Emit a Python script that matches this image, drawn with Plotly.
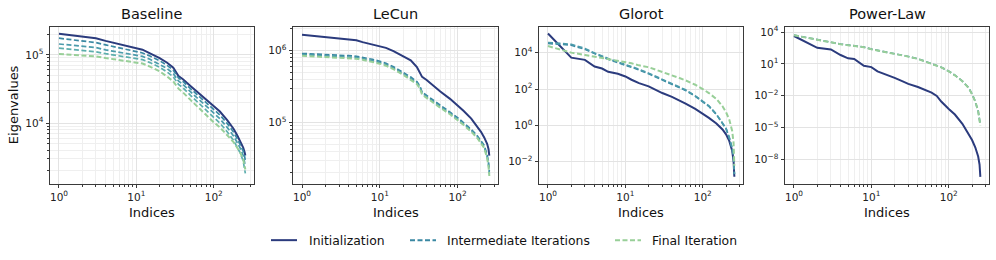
import plotly.graph_objects as go

# ---------------- data ----------------
titles = ["Baseline", "LeCun", "Glorot", "Power-Law"]
legend_names = ["Initialization", "Intermediate Iterations", "Final Iteration"]

base_idx = [1, 2, 3, 4, 5, 6, 8, 10, 12, 15, 20, 25, 30, 35, 40, 50, 60, 80, 100, 120, 150, 180, 200, 220, 240, 250, 256]
base_init = [2.04e5, 1.88e5, 1.75e5, 1.60e5, 1.51e5, 1.43e5, 1.31e5, 1.24e5, 1.19e5, 1.05e5, 8.95e4, 7.66e4, 6.5e4, 4.9e4, 4.4e4, 3.5e4, 2.94e4, 2.25e4, 1.8e4, 1.48e4, 1.1e4, 8.3e3, 6.7e3, 5.5e3, 4.4e3, 3.8e3, 3.36e3]
base_mid1 = [1.75e5, 1.61e5, 1.51e5, 1.40e5, 1.32e5, 1.27e5, 1.17e5, 1.11e5, 1.065e5, 9.6e4, 8.2e4, 7.0e4, 5.95e4, 4.6e4, 4.07e4, 3.2e4, 2.66e4, 2.01e4, 1.61e4, 1.32e4, 9.85e3, 7.4e3, 6.0e3, 4.9e3, 3.94e3, 3.3e3, 2.85e3]
base_mid2 = [1.44e5, 1.35e5, 1.28e5, 1.18e5, 1.13e5, 1.08e5, 1.03e5, 9.9e4, 9.5e4, 8.6e4, 7.3e4, 6.3e4, 5.3e4, 4.15e4, 3.68e4, 2.87e4, 2.38e4, 1.78e4, 1.41e4, 1.16e4, 8.6e3, 6.5e3, 5.25e3, 4.3e3, 3.4e3, 2.85e3, 2.35e3]
base_mid3 = [1.25e5, 1.166e5, 1.11e5, 1.04e5, 1.0e5, 9.6e4, 9.1e4, 8.9e4, 8.5e4, 7.7e4, 6.55e4, 5.6e4, 4.76e4, 3.7e4, 3.3e4, 2.56e4, 2.1e4, 1.56e4, 1.22e4, 1.0e4, 7.45e3, 5.6e3, 4.5e3, 3.65e3, 2.8e3, 2.3e3, 1.84e3]
base_final = [1.03e5, 9.85e4, 9.5e4, 8.98e4, 8.65e4, 8.38e4, 7.94e4, 7.77e4, 7.46e4, 6.73e4, 5.74e4, 4.8e4, 4.08e4, 3.2e4, 2.82e4, 2.19e4, 1.78e4, 1.32e4, 1.03e4, 8.7e3, 6.75e3, 5.3e3, 4.4e3, 3.7e3, 2.95e3, 2.5e3, 2.1e3]

lecun_idx = [1, 2, 3, 4, 5, 6, 8, 10, 12, 15, 20, 25, 30, 33, 35, 40, 50, 60, 80, 100, 120, 150, 180, 200, 220, 240, 250, 256]
lecun_init = [1.66e6, 1.54e6, 1.47e6, 1.43e6, 1.39e6, 1.31e6, 1.22e6, 1.15e6, 1.09e6, 9.8e5, 8.3e5, 7.3e5, 5.9e5, 4.7e5, 4.3e5, 3.9e5, 3.15e5, 2.7e5, 2.13e5, 1.73e5, 1.44e5, 1.13e5, 8.7e4, 7.4e4, 6.2e4, 5.05e4, 4.27e4, 3.46e4]
lecun_mid1 = [9.1e5, 8.85e5, 8.65e5, 8.48e5, 8.3e5, 8.05e5, 7.56e5, 7.1e5, 6.65e5, 5.94e5, 4.97e5, 4.28e5, 3.69e5, 3.15e5, 2.64e5, 2.38e5, 1.97e5, 1.73e5, 1.4e5, 1.17e5, 9.9e4, 8.0e4, 6.5e4, 5.6e4, 4.8e4, 3.55e4, 2.8e4, 2.1e4]
lecun_mid2 = [8.8e5, 8.5e5, 8.33e5, 8.16e5, 8.0e5, 7.75e5, 7.28e5, 6.83e5, 6.4e5, 5.72e5, 4.78e5, 4.12e5, 3.56e5, 3.04e5, 2.54e5, 2.29e5, 1.89e5, 1.66e5, 1.35e5, 1.12e5, 9.55e4, 7.75e4, 6.28e4, 5.35e4, 4.58e4, 3.35e4, 2.6e4, 1.95e4]
lecun_final = [8.45e5, 8.19e5, 8.01e5, 7.85e5, 7.69e5, 7.45e5, 7.0e5, 6.57e5, 6.16e5, 5.5e5, 4.6e5, 3.96e5, 3.42e5, 2.92e5, 2.44e5, 2.2e5, 1.82e5, 1.6e5, 1.3e5, 1.08e5, 9.2e4, 7.45e4, 6.04e4, 5.15e4, 4.4e4, 3.21e4, 2.47e4, 1.8e4]

glorot_idx = [1, 2, 3, 4, 5, 6, 8, 10, 12, 15, 20, 25, 30, 40, 50, 60, 80, 100, 120, 150, 180, 200, 220, 240, 250, 256]
glorot_init = [1.13e5, 5.3e3, 4.0e3, 1.72e3, 1.34e3, 8.8e2, 6.85e2, 4.9e2, 3.23e2, 2.12e2, 1.4e2, 84, 60, 37, 24, 15.8, 8.1, 4.5, 2.6, 1.28, 0.6, 0.32, 0.14, 0.04, 0.0113, 1.5e-3]
glorot_mid1 = [3.2e4, 2.6e4, 1.52e4, 8.5e3, 6.0e3, 4.3e3, 2.85e3, 2.12e3, 1.58e3, 1.13e3, 6.86e2, 4.5e2, 3.2e2, 1.96e2, 1.28e2, 84, 40, 21, 11.3, 4.0, 1.4, 0.66, 0.21, 0.053, 0.0173, 2.1e-3]
glorot_mid2 = [3.6e4, 2.9e4, 1.7e4, 9.4e3, 6.6e3, 4.7e3, 3.1e3, 2.3e3, 1.72e3, 1.22e3, 7.4e2, 4.85e2, 3.45e2, 2.1e2, 1.37e2, 90, 42, 22, 11.8, 4.1, 1.45, 0.68, 0.215, 0.054, 0.0175, 2.1e-3]
glorot_final = [2.3e4, 1.0e4, 7.5e3, 6.0e3, 5.3e3, 4.5e3, 3.5e3, 3.0e3, 2.6e3, 2.0e3, 1.58e3, 1.13e3, 8.8e2, 6.0e2, 4.0e2, 3.0e2, 1.72e2, 1.0e2, 60, 28.5, 11.3, 5.3, 2.1, 0.49, 0.113, 6e-3]

power_idx = [1, 2, 3, 4, 5, 6, 8, 10, 12, 15, 20, 25, 30, 40, 50, 60, 70, 80, 100, 120, 150, 180, 200, 220, 240, 250, 256]
power_init = [4.2e3, 3.2e2, 2.3e2, 68, 33, 29, 6.5, 4.9, 1.95, 1.1, 0.47, 0.23, 0.13, 0.065, 0.036, 0.019, 9.5e-3, 2.8e-3, 5.5e-4, 1.65e-4, 2.2e-5, 2.7e-6, 6.5e-7, 1.35e-7, 1.85e-8, 3.2e-9, 2.2e-10]
power_mid1 = [5.0e3, 1.85e3, 1.03e3, 7.3e2, 5.85e2, 4.7e2, 3.8e2, 2.45e2, 1.9e2, 1.42e2, 1.0e2, 70, 49, 30, 17, 11, 7.2, 4.7, 2.0, 0.85, 0.235, 0.057, 0.014, 2.9e-3, 3.4e-4, 6.7e-5, 1.65e-5]
power_final = [4.9e3, 1.8e3, 1.0e3, 7.1e2, 5.7e2, 4.6e2, 3.7e2, 2.4e2, 1.84e2, 1.38e2, 97, 68, 48, 29, 16.5, 10.7, 7.0, 4.6, 1.95, 0.83, 0.23, 0.056, 0.0135, 2.8e-3, 3.35e-4, 6.5e-5, 1.6e-5]

# tick positions / labels
x_major = [1, 10, 100]
x_major_text = ["10<sup>0</sup>", "10<sup>1</sup>", "10<sup>2</sup>"]
x_minor = [2, 3, 4, 5, 6, 7, 8, 9, 20, 30, 40, 50, 60, 70, 80, 90, 200, 300]

y_ticks = [
    ([1e4, 1e5], ["10<sup>4</sup>", "10<sup>5</sup>"],
     [2e3, 3e3, 4e3, 5e3, 6e3, 7e3, 8e3, 9e3, 2e4, 3e4, 4e4, 5e4, 6e4, 7e4, 8e4, 9e4, 2e5]),
    ([1e5, 1e6], ["10<sup>5</sup>", "10<sup>6</sup>"],
     [2e4, 3e4, 4e4, 5e4, 6e4, 7e4, 8e4, 9e4, 2e5, 3e5, 4e5, 5e5, 6e5, 7e5, 8e5, 9e5, 2e6]),
    ([1e-2, 1e0, 1e2, 1e4], ["10<sup>−2</sup>", "10<sup>0</sup>", "10<sup>2</sup>", "10<sup>4</sup>"], []),
    ([1e-8, 1e-5, 1e-2, 1e1, 1e4], ["10<sup>−8</sup>", "10<sup>−5</sup>", "10<sup>−2</sup>", "10<sup>1</sup>", "10<sup>4</sup>"], []),
]

# ---------------- style ----------------
W, H = 996, 260
C_INIT = "#2b3b7d"
C_MIDS = ["#3a88a2", "#4b9bab", "#5caead"]
C_FINAL = "#98cf98"
FONT = "DejaVu Sans"
DASH = "5px,2.5px"

panels = [
    (base_idx, base_init, [base_mid1, base_mid2, base_mid3], base_final),
    (lecun_idx, lecun_init, [lecun_mid1, lecun_mid2], lecun_final),
    (glorot_idx, glorot_init, [glorot_mid1, glorot_mid2], glorot_final),
    (power_idx, power_init, [power_mid1], power_final),
]
x_px = [(50, 254), (293, 498), (539, 743), (785, 989)]
y_px = (25, 183)
y_ranges = [(3.116, 5.41), (4.15, 6.33), (-3.2, 5.42), (-10.29, 4.49)]
x_range = (-0.116, 2.52)

fig = go.Figure()
layout = dict(
    width=W, height=H, margin=dict(l=0, r=0, t=0, b=0),
    paper_bgcolor="white", plot_bgcolor="white",
    font=dict(family=FONT, size=10, color="#222"),
    showlegend=False,
)
annotations = []
shapes = []

for k, (idx, init, mids, final) in enumerate(panels):
    n = k + 1
    xa = "x" if n == 1 else f"x{n}"
    ya = "y" if n == 1 else f"y{n}"
    fig.add_trace(go.Scatter(x=idx, y=init, mode="lines", xaxis=xa, yaxis=ya,
                             line=dict(color=C_INIT, width=2.0), name=legend_names[0]))
    for j, m in enumerate(mids):
        fig.add_trace(go.Scatter(x=idx, y=m, mode="lines", xaxis=xa, yaxis=ya,
                                 line=dict(color=C_MIDS[j] if len(mids) > 1 else C_MIDS[0], width=1.7,
                                           dash=DASH),
                                 name=legend_names[1]))
    fig.add_trace(go.Scatter(x=idx, y=final, mode="lines", xaxis=xa, yaxis=ya,
                             line=dict(color=C_FINAL, width=2.0, dash=DASH), name=legend_names[2]))

    x0, x1 = x_px[k]
    common = dict(showline=True, linecolor="#3a3a3a", linewidth=1, mirror=True,
                  ticks="outside", ticklen=3.5, tickwidth=0.8, tickcolor="#3a3a3a",
                  showgrid=True, gridcolor="#e3e3e3", gridwidth=0.8, zeroline=False,
                  type="log", tickfont=dict(size=10.5, family=FONT, color="#222"))
    layout["xaxis" if n == 1 else f"xaxis{n}"] = dict(
        common, domain=[x0 / W, x1 / W], anchor=ya, range=list(x_range),
        tickmode="array", tickvals=x_major, ticktext=x_major_text,
        minor=dict(tickmode="array", tickvals=x_minor, ticks="outside", ticklen=2,
                   tickcolor="#3a3a3a", showgrid=True, gridcolor="#efefef", gridwidth=0.6))
    yv, yt, ym = y_ticks[k]
    ymin = dict(tickmode="array", tickvals=ym, ticks="outside", ticklen=2,
                tickcolor="#3a3a3a", showgrid=True, gridcolor="#efefef", gridwidth=0.6) if ym else dict(ticks="")
    layout["yaxis" if n == 1 else f"yaxis{n}"] = dict(
        common, domain=[1 - y_px[1] / H, 1 - y_px[0] / H], anchor=xa, range=list(y_ranges[k]),
        tickmode="array", tickvals=yv, ticktext=yt, minor=ymin)

    cx = (x0 + x1) / 2 / W
    annotations.append(dict(text=titles[k], x=cx, y=1 - 12 / H, xref="paper", yref="paper",
                            showarrow=False, xanchor="center", yanchor="middle",
                            font=dict(size=14.5, family=FONT, color="#111")))
    annotations.append(dict(text="Indices", x=cx, y=1 - 212 / H, xref="paper", yref="paper",
                            showarrow=False, xanchor="center", yanchor="middle",
                            font=dict(size=13, family=FONT, color="#111")))

annotations.append(dict(text="Eigenvalues", x=13 / W, y=1 - 104 / H, xref="paper", yref="paper",
                        showarrow=False, xanchor="center", yanchor="middle", textangle=-90,
                        font=dict(size=13, family=FONT, color="#111")))

# manual legend (matplotlib-style, centred below the panels)
leg_y = 1 - 240 / H
leg_items = [
    (legend_names[0], C_INIT, "solid", 2.0, 271, 297, 307),
    (legend_names[1], C_MIDS[0], DASH, 2.0, 410, 436, 445),
    (legend_names[2], C_FINAL, DASH, 2.0, 615, 641, 650),
]
for name, col, dash, lw, lx0, lx1, tx in leg_items:
    shapes.append(dict(type="line", xref="paper", yref="paper", x0=lx0 / W, x1=lx1 / W,
                       y0=leg_y, y1=leg_y, line=dict(color=col, width=lw, dash=dash)))
    annotations.append(dict(text=name, x=tx / W, y=leg_y, xref="paper", yref="paper",
                            showarrow=False, xanchor="left", yanchor="middle",
                            font=dict(size=12.4, family=FONT, color="#111")))

layout["annotations"] = annotations
layout["shapes"] = shapes
fig.update_layout(**layout)
fig.write_html("out.html", config={"displayModeBar": False},
               post_script="document.body.style.margin='0';document.body.style.overflow='hidden';")
